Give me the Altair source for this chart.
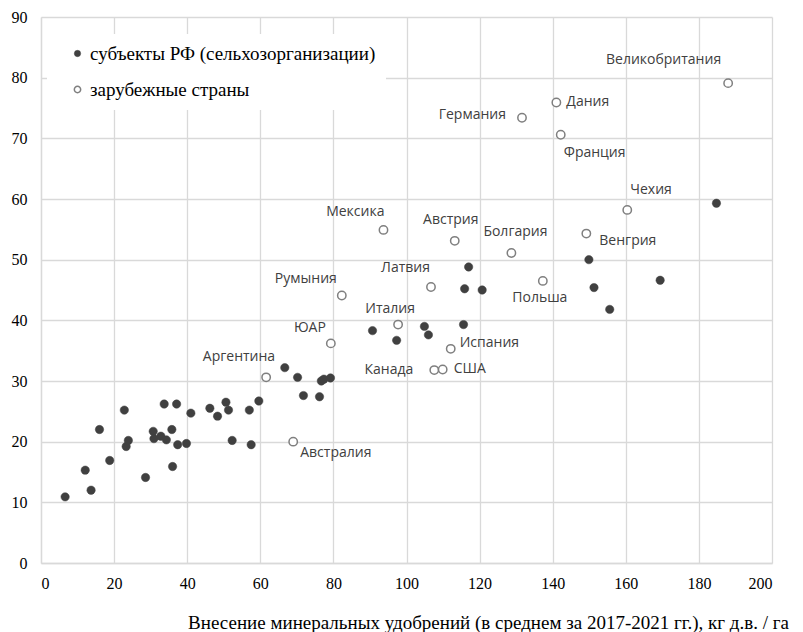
import altair as alt
import pandas as pd

rf_label = "субъекты РФ (сельхозорганизации)"
foreign_label = "зарубежные страны"
x_title = "Внесение  минеральных удобрений (в среднем за 2017-2021  гг.), кг д.в. / га"

# Russian regions (agricultural organisations)
rf_x = [6.6, 12.1, 13.7, 16.0, 18.8, 22.8, 23.3, 23.9, 28.6, 30.7, 30.9, 32.8,
        33.7, 34.3, 35.8, 36.0, 37.1, 37.4, 39.8, 41.0, 46.2, 48.3, 50.6, 51.3,
        52.3, 57.0, 57.5, 59.6, 66.7, 70.2, 71.8, 76.2, 76.7, 77.4, 79.2, 90.7,
        97.3, 104.9, 106.0, 115.6, 184.8, 117.0, 115.9, 120.7, 149.9, 151.3,
        169.4, 155.6]
rf_y = [10.9, 15.3, 12.0, 22.0, 16.9, 25.2, 19.2, 20.2, 14.1, 21.7, 20.5, 20.9,
        26.2, 20.3, 22.0, 15.9, 26.2, 19.5, 19.7, 24.7, 25.5, 24.2, 26.5, 25.2,
        20.2, 25.2, 19.5, 26.7, 32.2, 30.6, 27.6, 27.4, 30.0, 30.3, 30.5, 38.3,
        36.7, 39.0, 37.6, 39.3, 59.3, 48.8, 45.2, 45.0, 50.0, 45.4,
        46.6, 41.8]

# Foreign countries
foreign_names = ["Великобритания", "Дания", "Германия", "Франция", "Чехия",
                 "Австрия", "Болгария", "Венгрия", "Латвия", "Польша",
                 "Мексика", "Румыния", "Италия", "ЮАР", "Испания", "Канада",
                 "США", "Аргентина", "Австралия"]
foreign_x = [188.0, 141.0, 131.6, 142.2, 160.4, 113.2, 128.7, 149.2, 106.7,
             137.3, 93.7, 82.3, 97.7, 79.3, 112.1, 107.6, 109.9, 61.6, 69.0]
foreign_y = [79.1, 75.9, 73.4, 70.6, 58.2, 53.1, 51.1, 54.3, 45.5, 46.5,
             54.9, 44.1, 39.3, 36.2, 35.3, 31.8, 31.9, 30.6, 20.0]

x_ticks = list(range(0, 201, 20))
y_ticks = list(range(0, 91, 10))

# label placement (align, dx, dy) -- styling only
label_style = {
    "Великобритания": ("right", -7, -23),
    "Дания": ("left", 10, -1),
    "Германия": ("right", -16, -3),
    "Франция": ("left", 3, 18),
    "Чехия": ("left", 3, -20),
    "Австрия": ("center", -4, -21),
    "Болгария": ("center", 4, -21),
    "Венгрия": ("left", 13, 7),
    "Латвия": ("right", -1, -19),
    "Польша": ("center", -3, 17),
    "Мексика": ("right", 1, -18),
    "Румыния": ("right", -5, -16),
    "Италия": ("center", -8, -16),
    "ЮАР": ("right", -5, -15),
    "Испания": ("left", 9, -6),
    "Канада": ("right", -21, 0),
    "США": ("left", 11, 0),
    "Аргентина": ("right", 9, -20),
    "Австралия": ("left", 7, 11),
}

rf_df = pd.DataFrame({"x": rf_x, "y": rf_y, "series": rf_label, "name": ""})
fr_df = pd.DataFrame({"x": foreign_x, "y": foreign_y, "series": foreign_label,
                      "name": foreign_names})
df = pd.concat([rf_df, fr_df], ignore_index=True)

domain = [rf_label, foreign_label]
legend = alt.Legend(title=None, orient="none", legendX=6, legendY=17,
                    fillColor="white", padding=10, symbolOffset=11,
                    labelFont="Liberation Serif", labelFontSize=19,
                    labelColor="#000000", labelOffset=3, rowPadding=16,
                    labelLimit=0,
                    symbolSize=40, symbolStrokeWidth=1.2, symbolType="circle")

x_enc = alt.X("x:Q", scale=alt.Scale(domain=[0, 200], nice=False),
              axis=alt.Axis(values=x_ticks, title=x_title, titleX=447,
                            titleY=65, titleAlign="center",
                            titleBaseline="alphabetic"))
y_enc = alt.Y("y:Q", scale=alt.Scale(domain=[0, 90], nice=False),
              axis=alt.Axis(values=y_ticks, title=None))

points = alt.Chart(df).mark_circle(size=70, opacity=1).encode(
    x=x_enc,
    y=y_enc,
    fill=alt.Fill("series:N", scale=alt.Scale(domain=domain,
                                              range=["#404040", "#ffffff"]),
                  legend=legend),
    stroke=alt.Stroke("series:N", scale=alt.Scale(domain=domain,
                                                  range=["#404040", "#7f7f7f"]),
                      legend=legend),
    strokeWidth=alt.StrokeWidth("series:N",
                                scale=alt.Scale(domain=domain, range=[0.5, 1.5]),
                                legend=None),
)

layers = [points]
for name in foreign_names:
    align, dx, dy = label_style[name]
    layers.append(
        alt.Chart(fr_df).transform_filter(alt.datum.name == name).mark_text(
            align=align, dx=dx, dy=dy, baseline="middle", font="Open Sans",
            fontSize=14, color="#404040"
        ).encode(x="x:Q", y="y:Q", text="name:N")
    )

chart = alt.layer(*layers).properties(
    width=731, height=546,
    autosize=alt.AutoSizeParams(type="none"),
    padding={"left": 33, "top": 9, "right": 21, "bottom": 69},
).configure_view(stroke=None).configure_axis(
    grid=True, gridColor="#d9d9d9", gridWidth=1.3,
    domain=True, domainColor="#d9d9d9", domainWidth=1.3,
    ticks=False,
    labelFont="Liberation Serif", labelFontSize=16, labelColor="#000000",
    titleFont="Liberation Serif", titleFontSize=19, titleColor="#000000",
    titleFontWeight="normal",
).configure_axisX(labelPadding=12).configure_axisY(labelPadding=14)

chart.save("out.html", embed_options={"renderer": "svg", "actions": False})
